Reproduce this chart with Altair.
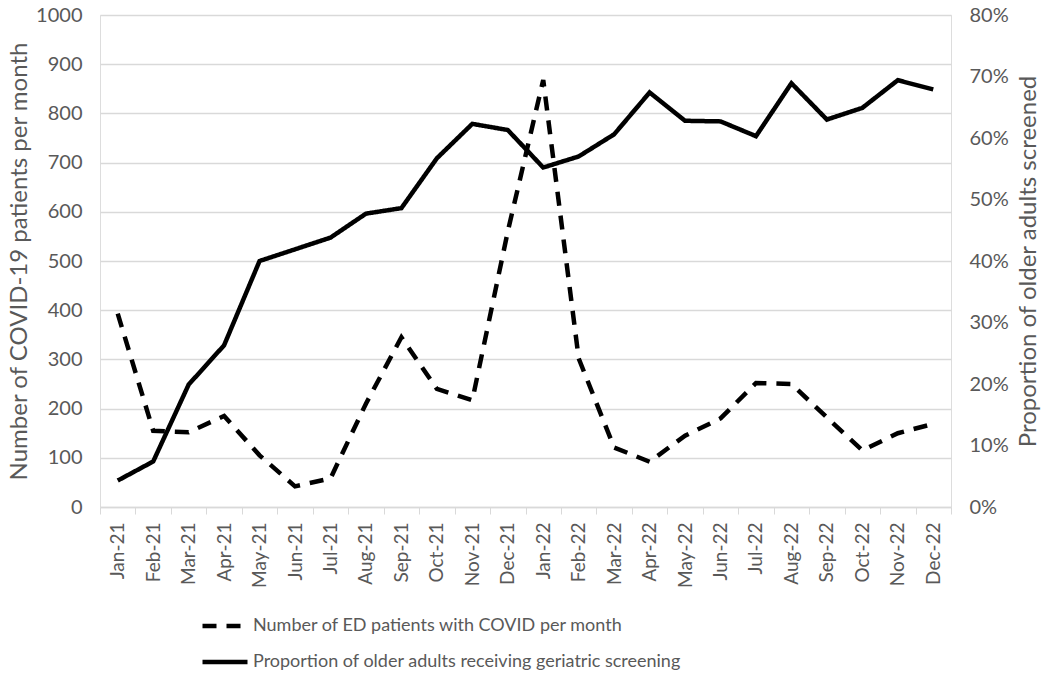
import altair as alt
import pandas as pd

months = ["Jan-21", "Feb-21", "Mar-21", "Apr-21", "May-21", "Jun-21", "Jul-21", "Aug-21",
          "Sep-21", "Oct-21", "Nov-21", "Dec-21", "Jan-22", "Feb-22", "Mar-22", "Apr-22",
          "May-22", "Jun-22", "Jul-22", "Aug-22", "Sep-22", "Oct-22", "Nov-22", "Dec-22"]
ed_patients = [393, 155, 152, 185, 105, 42, 58, 210, 345, 240, 217, 560, 868, 302, 121, 92,
               145, 180, 252, 250, 182, 115, 150, 169]
screened_pct = [4.3, 7.4, 19.9, 26.3, 40.0, 41.9, 43.8, 47.7, 48.6, 56.7, 62.3, 61.3, 55.2,
                57.0, 60.6, 67.4, 62.8, 62.7, 60.3, 68.9, 63.0, 64.9, 69.4, 67.9]

series_ed = "Number of ED patients with COVID per month"
series_sc = "Proportion of older adults receiving geriatric screening"

df_ed = pd.DataFrame({"month": months, "value": ed_patients, "series": series_ed})
df_sc = pd.DataFrame({"month": months, "value": [v / 100 for v in screened_pct], "series": series_sc})

FONT = "Lato"
GRAY = "#595959"
GRID = "#d9d9d9"

x_enc = alt.X("month:N", sort=months, bandPosition=0.5,
              scale=alt.Scale(type="band", paddingInner=0, paddingOuter=0),
              axis=alt.Axis(title=None, labelAngle=-90, labelFontSize=19, labelColor=GRAY,
                            labelPadding=8, tickBand="extent", tickColor=GRID, tickSize=7,
                            domainColor=GRID, domainWidth=1.5, labelFont=FONT, grid=False))

dash = alt.StrokeDash("series:N",
                      scale=alt.Scale(domain=[series_ed, series_sc], range=[[14, 10], [1, 0]]),
                      legend=alt.Legend(title=None, orient="none", legendX=100, legendY=586,
                                        direction="vertical", symbolType="stroke",
                                        symbolSize=2025, symbolStrokeWidth=4.5,
                                        symbolStrokeColor="black",
                                        labelFontSize=18, labelColor=GRAY, labelFont=FONT,
                                        labelOffset=3, rowPadding=2, labelLimit=800))

left = alt.Chart(df_ed).mark_line(color="black", strokeWidth=4.5, strokeJoin="miter").encode(
    x=x_enc,
    y=alt.Y("value:Q", scale=alt.Scale(domain=[0, 1000]),
            axis=alt.Axis(title="Number of COVID-19 patients per month", values=list(range(0, 1001, 100)),
                          format="d",
                          labelFontSize=20, labelColor=GRAY, labelPadding=18, labelFont=FONT,
                          ticks=False, domain=False, gridColor=GRID, gridWidth=1.5,
                          titleFontSize=24, titleColor=GRAY, titleFont=FONT, titleFontWeight="normal",
                          titlePadding=4)),
    strokeDash=dash,
)

right = alt.Chart(df_sc).mark_line(color="black", strokeWidth=4.5, strokeJoin="miter").encode(
    x=x_enc,
    y=alt.Y("value:Q", scale=alt.Scale(domain=[0, 0.8]),
            axis=alt.Axis(orient="right", title="Proportion of older adults screened",
                          values=[i / 10 for i in range(0, 9)], format=".0%",
                          labelFontSize=20, labelColor=GRAY, labelPadding=18, labelFont=FONT,
                          ticks=False, domain=False, grid=False,
                          titleFontSize=24, titleColor=GRAY, titleFont=FONT, titleFontWeight="normal",
                          titleAngle=270, titlePadding=32)),
    strokeDash=dash,
)

chart = alt.layer(left, right).resolve_scale(y="independent").properties(
    width=851, height=492,
    autosize=alt.AutoSizeParams(type="none"),
    padding={"left": 92, "top": 7, "right": 91, "bottom": 166},
).configure_view(stroke=None).configure(background="white")

chart.save("out.html", embed_options={"renderer": "svg", "actions": False})
